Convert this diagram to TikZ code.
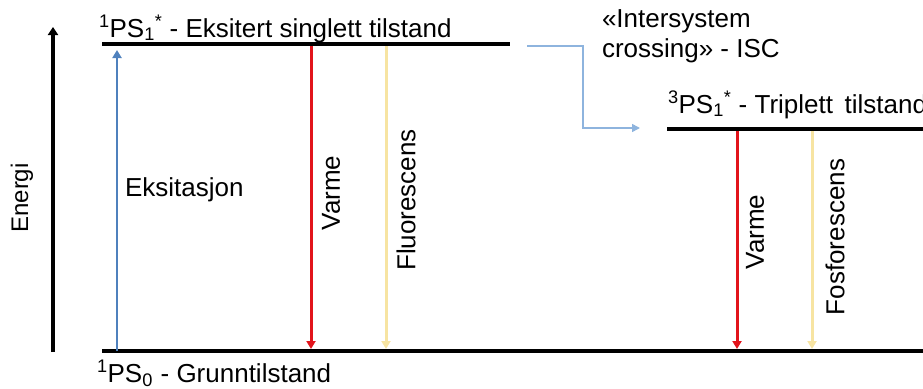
\documentclass[tikz,border=0pt]{standalone}
\usepackage{fontspec}
\setmainfont{Liberation Sans}
\usetikzlibrary{arrows.meta}
\definecolor{exblue}{HTML}{4F81BD}
\definecolor{heatred}{HTML}{E2141B}
\definecolor{lightyel}{HTML}{F7E4A2}
\definecolor{iscblue}{HTML}{8EB4DE}
\newcommand{\lvltxt}[3]{\textsuperscript{#1}PS\textsubscript{#2}\textsuperscript{#3}}
\begin{document}
\begin{tikzpicture}[x=1pt,y=-1pt,
  every node/.style={inner sep=0pt,outer sep=0pt,font=\fontsize{26}{30}\selectfont},
  level/.style={line width=4pt},
  tip/.style={-{Triangle[length=8pt,width=9pt]}},
  axisarrow/.style={line width=3.5pt,-{Triangle[length=8pt,width=10pt]}},
  excite/.style={exblue,line width=2.5pt,tip},
  heat/.style={heatred,line width=3pt,tip},
  glow/.style={lightyel,line width=3pt,tip},
  isc/.style={iscblue,line width=1.5pt,-{Triangle[length=8pt,width=8pt]}},
  vlabel/.style={rotate=90}]
\useasboundingbox (0,0) rectangle (923,388);
% level lines
\coordinate (s1a) at (102,44);
\coordinate (s1b) at (510,44);
\coordinate (s0a) at (102,351);
\coordinate (s0b) at (923,351);
\coordinate (t1a) at (667,129);
\coordinate (t1b) at (923,129);
\draw[level] (s1a) -- (s1b);
\draw[level] (s0a) -- (s0b);
\draw[level] (t1a) -- (t1b);
% energy axis
\coordinate (ax0) at (53,352);
\coordinate (ax1) at (53,27);
\draw[axisarrow] (ax0) -- (ax1);
\node[vlabel,anchor=base,font=\fontsize{24}{28}\selectfont] (energi) at (28,198) {Energi};
% labels of levels
\node[anchor=base west] (s1lab) at (99,37) {\lvltxt{1}{1}{*} - Eksitert singlett tilstand};
\node[anchor=base west] (s0lab) at (97,382) {\lvltxt{1}{0}{} - Grunntilstand};
\node[anchor=base west] (t1lab) at (668,113) {\lvltxt{3}{1}{*} - Triplett\, tilstand};
% excitation
\coordinate (ex0) at (117,351);
\coordinate (ex1) at (117,50);
\draw[excite] (ex0) -- (ex1);
\node[anchor=west] (exlab) at (125,190) {Eksitasjon};
% singlet decays
\coordinate (h1a) at (311,46);
\coordinate (h1b) at (311,349);
\draw[heat] (h1a) -- (h1b);
\node[vlabel] (h1lab) at (331,193) {Varme};
\coordinate (f1a) at (386,46);
\coordinate (f1b) at (386,349);
\draw[glow] (f1a) -- (f1b);
\node[vlabel] (f1lab) at (406,200) {Fluorescens};
% triplet decays
\coordinate (h2a) at (737,131);
\coordinate (h2b) at (737,349);
\draw[heat] (h2a) -- (h2b);
\node[vlabel] (h2lab) at (755,232) {Varme};
\coordinate (p2a) at (812,131);
\coordinate (p2b) at (812,349);
\draw[glow] (p2a) -- (p2b);
\node[vlabel] (p2lab) at (835,237) {Fosforescens};
% ISC
\coordinate (isc0) at (527,46);
\coordinate (isc1) at (640,128);
\draw[isc] (isc0) -| (583,128) -- (isc1);
\node[anchor=base west,align=left] (isclab) at (602,57) {«Intersystem\\crossing» - ISC};
\end{tikzpicture}
\end{document}
